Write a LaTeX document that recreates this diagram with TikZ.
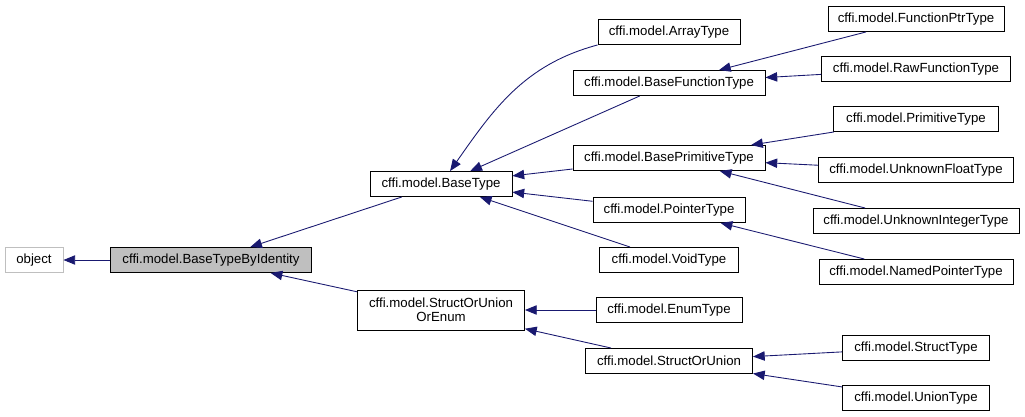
\documentclass[tikz,border=0pt]{standalone}
\usepackage{fontspec}
\setmainfont{Liberation Sans}
\usetikzlibrary{arrows.meta,positioning}
\definecolor{edge}{HTML}{191970}
\definecolor{gborder}{HTML}{BFBFBF}
\definecolor{gfill}{HTML}{BFBFBF}

\begin{document}
\begin{tikzpicture}[
  x=0.03cm, y=-0.03cm,
  cls/.style={draw=black, line width=0.8pt, fill=white, minimum height=0.75cm, inner sep=0pt, align=center, font=\fontsize{11.3}{12}\selectfont},
  ext/.style={cls, draw=gborder},
  cur/.style={cls, fill=gfill},
  inh/.style={-{Triangle[length=10pt, width=8pt]}, line width=0.75pt, color=edge},
]
\useasboundingbox (0,0) rectangle (1025,417);

\node[ext, minimum width=1.74cm] (object) at (34,260) {object};
\node[cur, minimum width=6.03cm] (BaseTypeByIdentity) at (211,260) {cffi.model.BaseTypeByIdentity};

\node[cls, minimum width=4.26cm] (BaseType) at (441,184) {cffi.model.BaseType};
\node[cls, minimum width=5.01cm, minimum height=1.2cm] (StructOrUnionOrEnum) at (441,310) {cffi.model.StructOrUnion\\OrEnum};

\node[cls, minimum width=4.26cm] (ArrayType) at (669,32) {cffi.model.ArrayType};
\node[cls, minimum width=5.76cm] (BaseFunctionType) at (669,83) {cffi.model.BaseFunctionType};
\node[cls, minimum width=5.76cm] (BasePrimitiveType) at (669,158) {cffi.model.BasePrimitiveType};
\node[cls, minimum width=4.56cm] (PointerType) at (669,210) {cffi.model.PointerType};
\node[cls, minimum width=4.17cm] (VoidType) at (669,260) {cffi.model.VoidType};
\node[cls, minimum width=4.38cm] (EnumType) at (669,310) {cffi.model.EnumType};
\node[cls, minimum width=5.01cm] (StructOrUnion) at (669,361) {cffi.model.StructOrUnion};

\node[cls, minimum width=5.28cm] (FunctionPtrType) at (916,19) {cffi.model.FunctionPtrType};
\node[cls, minimum width=5.67cm] (RawFunctionType) at (916,69) {cffi.model.RawFunctionType};
\node[cls, minimum width=4.95cm] (PrimitiveType) at (916,119) {cffi.model.PrimitiveType};
\node[cls, minimum width=5.85cm] (UnknownFloatType) at (916,170) {cffi.model.UnknownFloatType};
\node[cls, minimum width=6.18cm] (UnknownIntegerType) at (916,221) {cffi.model.UnknownIntegerType};
\node[cls, minimum width=5.82cm] (NamedPointerType) at (916,272) {cffi.model.NamedPointerType};
\node[cls, minimum width=4.41cm] (StructType) at (916,348) {cffi.model.StructType};
\node[cls, minimum width=4.41cm] (UnionType) at (916,398) {cffi.model.UnionType};

\draw[inh] (BaseTypeByIdentity) -- (object);
\draw[inh] (BaseType) -- (BaseTypeByIdentity);
\draw[inh] (StructOrUnionOrEnum) -- (BaseTypeByIdentity);

\draw[inh] (ArrayType.south west) to[out=195, in=55] (BaseType);
\draw[inh] (BaseFunctionType) -- (BaseType);
\draw[inh] (BasePrimitiveType) -- (BaseType);
\draw[inh] (PointerType) -- (BaseType);
\draw[inh] (VoidType) -- (BaseType);

\draw[inh] (EnumType) -- (StructOrUnionOrEnum);
\draw[inh] (StructOrUnion) -- (StructOrUnionOrEnum);

\draw[inh] (FunctionPtrType) -- (BaseFunctionType);
\draw[inh] (RawFunctionType) -- (BaseFunctionType);
\draw[inh] (PrimitiveType) -- (BasePrimitiveType);
\draw[inh] (UnknownFloatType) -- (BasePrimitiveType);
\draw[inh] (UnknownIntegerType) -- (BasePrimitiveType);
\draw[inh] (NamedPointerType) -- (PointerType);
\draw[inh] (StructType) -- (StructOrUnion);
\draw[inh] (UnionType) -- (StructOrUnion);

\end{tikzpicture}
\end{document}
